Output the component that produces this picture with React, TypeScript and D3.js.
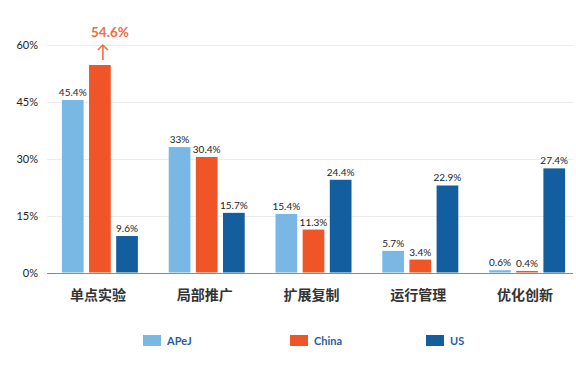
import React, { useEffect, useRef } from "react";
import * as d3 from "d3";

const categories = ["单点实验", "局部推广", "扩展复制", "运行管理", "优化创新"];
const seriesNames = ["APeJ", "China", "US"];
const apej = [45.4, 33, 15.4, 5.7, 0.6];
const china = [54.6, 30.4, 11.3, 3.4, 0.4];
const us = [9.6, 15.7, 24.4, 22.9, 27.4];
const yTicks = [0, 15, 30, 45, 60];
const colors = ["#79b8e5", "#f05527", "#135e9f"];

const App = () => {
  const svgRef = useRef<SVGSVGElement>(null);

  useEffect(() => {
    const svg = d3.select(svgRef.current);
    svg.selectAll("*").remove();

    const height = 369;
    const margin = { top: 44, bottom: 97, left: 47 };
    const gridRight = 573;
    const font = "Lato, 'Open Sans', sans-serif";
    const values = [apej, china, us];

    const x0 = d3
      .scaleBand()
      .domain(categories)
      .range([46.5, 580.5])
      .paddingInner(0)
      .paddingOuter(0);
    const groupW = 76;
    const x1 = d3
      .scaleBand()
      .domain(seriesNames)
      .range([0, groupW])
      .paddingInner(0.2);
    const y = d3
      .scaleLinear()
      .domain([0, 60])
      .range([height - margin.bottom + 0.5, margin.top + 0.5]);

    // grid
    svg
      .append("g")
      .selectAll("line")
      .data(yTicks.filter((t) => t > 0))
      .enter()
      .append("line")
      .attr("x1", margin.left)
      .attr("x2", gridRight)
      .attr("y1", (d) => Math.round(y(d)) + 0.5)
      .attr("y2", (d) => Math.round(y(d)) + 0.5)
      .attr("stroke", "#ececec")
      .attr("stroke-width", 1);

    // y labels
    svg
      .append("g")
      .selectAll("text")
      .data(yTicks)
      .enter()
      .append("text")
      .attr("x", 38)
      .attr("y", (d) => y(d) + 4)
      .attr("text-anchor", "end")
      .attr("font-family", font)
      .attr("font-size", 11)
      .attr("fill", "#222")
      .text((d) => d + "%");

    // bars
    const groups = svg
      .append("g")
      .selectAll("g")
      .data(categories)
      .enter()
      .append("g")
      .attr(
        "transform",
        (d) => `translate(${x0(d)! + (x0.bandwidth() - groupW) / 2},0)`
      );

    seriesNames.forEach((s, si) => {
      groups
        .append("rect")
        .attr("x", x1(s)!)
        .attr("width", x1.bandwidth())
        .attr("y", (_d, i) => y(values[si][i]))
        .attr("height", (_d, i) => y(0) - y(values[si][i]))
        .attr("fill", colors[si]);

      groups
        .filter((_d, i) => !(si === 1 && i === 0))
        .append("text")
        .attr("x", x1(s)! + x1.bandwidth() / 2)
        .attr("y", (d) => y(values[si][categories.indexOf(d)]) - 4)
        .attr("text-anchor", "middle")
        .attr("font-family", font)
        .attr("font-size", 10)
        .attr("fill", "#222")
        .text((d) => values[si][categories.indexOf(d)] + "%");
    });

    // highlight on China / 单点实验
    const cx =
      x0(categories[0])! + (x0.bandwidth() - groupW) / 2 + x1("China")! + x1.bandwidth() / 2;
    const top = y(china[0]);
    const arrow = svg
      .append("g")
      .attr("stroke", "#f26a3e")
      .attr("stroke-width", 1.6)
      .attr("fill", "none");
    arrow
      .append("line")
      .attr("x1", cx + 3)
      .attr("x2", cx + 3)
      .attr("y1", top - 5)
      .attr("y2", top - 20);
    arrow
      .append("path")
      .attr("d", `M${cx - 2},${top - 15} L${cx + 3},${top - 20} L${cx + 8},${top - 15}`);
    svg
      .append("text")
      .attr("x", cx + 10)
      .attr("y", top - 28)
      .attr("text-anchor", "middle")
      .attr("font-family", font)
      .attr("font-weight", "bold")
      .attr("font-size", 13.5)
      .attr("fill", "#f26a3e")
      .text(china[0] + "%");

    // zero axis
    svg
      .append("line")
      .attr("x1", margin.left)
      .attr("x2", gridRight)
      .attr("y1", Math.round(y(0)) + 0.5)
      .attr("y2", Math.round(y(0)) + 0.5)
      .attr("stroke", "#8a8a8a")
      .attr("stroke-width", 1);

    // category labels
    svg
      .append("g")
      .selectAll("text")
      .data(categories)
      .enter()
      .append("text")
      .attr("x", (d) => x0(d)! + x0.bandwidth() / 2 - 2)
      .attr("y", 300)
      .attr("text-anchor", "middle")
      .attr("font-family", "'Noto Sans CJK SC', sans-serif")
      .attr("font-weight", "bold")
      .attr("font-size", 14)
      .attr("fill", "#333")
      .text((d) => d);

    // legend
    const legendX = [143, 290, 426];
    const legend = svg
      .append("g")
      .selectAll("g")
      .data(seriesNames)
      .enter()
      .append("g")
      .attr("transform", (_d, i) => `translate(${legendX[i]},335)`);
    legend
      .append("rect")
      .attr("width", 18)
      .attr("height", 11)
      .attr("fill", (_d, i) => colors[i]);
    legend
      .append("text")
      .attr("x", 24)
      .attr("y", 10)
      .attr("font-family", font)
      .attr("font-weight", "bold")
      .attr("font-size", 11)
      .attr("fill", "#2b5c9c")
      .text((d) => d);
  }, []);

  return (
    <svg
      ref={svgRef}
      width={576}
      height={369}
      style={{ position: "absolute", left: 0, top: 0, background: "#fff" }}
    ></svg>
  );
};

export default App;
